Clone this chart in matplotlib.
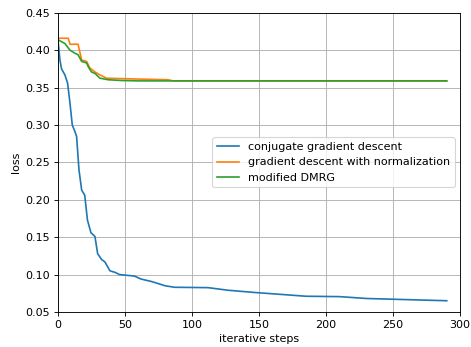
import matplotlib
matplotlib.use("Agg")
import matplotlib.pyplot as plt
import numpy as np

# conjugate gradient descent
cg_steps = [0, 1.5, 2.7, 5.2, 7.2, 9, 10.7, 12.7, 13.9, 15.7, 17.7, 20, 22, 24.6, 27.6,
            29.6, 32.6, 35, 38.8, 42.5, 46, 57, 62, 70, 80, 87, 112, 127, 147, 170,
            185, 210, 230, 260, 290]
cg_loss = [0.414, 0.387, 0.375, 0.367, 0.356, 0.329, 0.300, 0.291, 0.285, 0.240, 0.213,
           0.206, 0.173, 0.156, 0.151, 0.128, 0.120, 0.117, 0.105, 0.103, 0.100, 0.098,
           0.094, 0.0906, 0.085, 0.083, 0.0825, 0.079, 0.076, 0.073, 0.071, 0.0705,
           0.068, 0.0665, 0.065]

# gradient descent with normalization
gd_steps = [0, 7.7, 9, 15, 17.7, 21.4, 23.9, 27.6, 31.3, 36.3, 47.5, 82, 86, 290]
gd_loss = [0.416, 0.416, 0.408, 0.408, 0.387, 0.385, 0.376, 0.371, 0.367, 0.3626,
           0.362, 0.3605, 0.359, 0.359]

# modified DMRG
dmrg_steps = [0, 5.2, 9, 12.7, 15, 17.7, 21.4, 22.6, 25, 27.6, 31.3, 37.5, 47.5, 60, 290]
dmrg_loss = [0.414, 0.409, 0.400, 0.396, 0.394, 0.385, 0.383, 0.378, 0.371, 0.369,
             0.3626, 0.3605, 0.3595, 0.359, 0.359]

dpi = 80
fig = plt.figure(figsize=(471 / dpi, 347 / dpi), dpi=dpi)
ax = fig.add_axes([0.123, 0.101, 0.854, 0.862])

ax.plot(cg_steps, cg_loss, label="conjugate gradient descent")
ax.plot(gd_steps, gd_loss, label="gradient descent with normalization")
ax.plot(dmrg_steps, dmrg_loss, label="modified DMRG")

ax.set_xlim(0, 300)
ax.set_ylim(0.05, 0.45)
ax.set_xticks(np.arange(0, 301, 50))
ax.set_yticks(np.arange(0.05, 0.451, 0.05))
ax.set_xlabel("iterative steps")
ax.set_ylabel("loss")
ax.grid(True)
ax.legend(loc="center right")

fig.savefig("out.png", dpi=dpi)
